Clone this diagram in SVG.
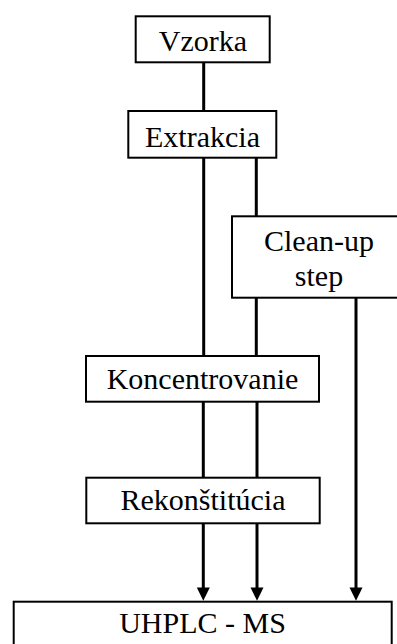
<svg xmlns="http://www.w3.org/2000/svg" width="397" height="644" viewBox="0 0 397 644">
<style>
.box{fill:#fff;stroke:#000;stroke-width:2}
.t{font-family:'Liberation Serif','Times New Roman','DejaVu Serif',serif;font-size:30px;fill:#000;text-anchor:middle}
.c{stroke:#000;stroke-width:3;fill:none}
</style>
<rect width="397" height="644" fill="#fff"/>
<g id="connectors">
<line class="c" x1="203.7" y1="63" x2="203.7" y2="111"/>
<line class="c" x1="203.7" y1="158" x2="203.7" y2="356"/>
<line class="c" x1="256.3" y1="158" x2="256.3" y2="216"/>
<line class="c" x1="256.3" y1="298" x2="256.3" y2="356"/>
<line class="c" x1="203.3" y1="402" x2="203.3" y2="478"/>
<line class="c" x1="257" y1="402" x2="257" y2="478"/>
<path class="c" d="M203.3,524 L203.3,588"/>
<path class="c" d="M257,524 L257,588"/>
<path class="c" d="M356,298 L356,588"/>
<path d="M196.8,587.5 L209.8,587.5 L203.3,600.7 Z" fill="#000"/>
<path d="M250.5,587.5 L263.5,587.5 L257,600.7 Z" fill="#000"/>
<path d="M349.5,587.5 L362.5,587.5 L356,600.7 Z" fill="#000"/>
</g>
<g id="vzorka">
<rect class="box" x="135.7" y="16.3" width="134" height="46"/>
<text class="t" x="203" y="51" font-family="Liberation Serif, serif">Vzorka</text>
</g>
<g id="extrakcia">
<rect class="box" x="128.3" y="111" width="148" height="46.7"/>
<text class="t" x="202.5" y="147">Extrakcia</text>
</g>
<g id="cleanup">
<rect class="box" x="232" y="216.3" width="175" height="81.4"/>
<text class="t" x="319" y="251">Clean-up</text>
<text class="t" x="319" y="286">step</text>
</g>
<g id="koncentrovanie">
<rect class="box" x="86" y="356" width="233" height="45.7"/>
<text class="t" x="202.5" y="389">Koncentrovanie</text>
</g>
<g id="rekonstitucia">
<rect class="box" x="86.3" y="477.7" width="233.4" height="45.6"/>
<text class="t" x="203" y="510">Rekonštitúcia</text>
</g>
<g id="uhplc">
<rect class="box" x="13.7" y="601.7" width="378" height="60"/>
<text class="t" x="202.5" y="633">UHPLC - MS</text>
</g>
</svg>
